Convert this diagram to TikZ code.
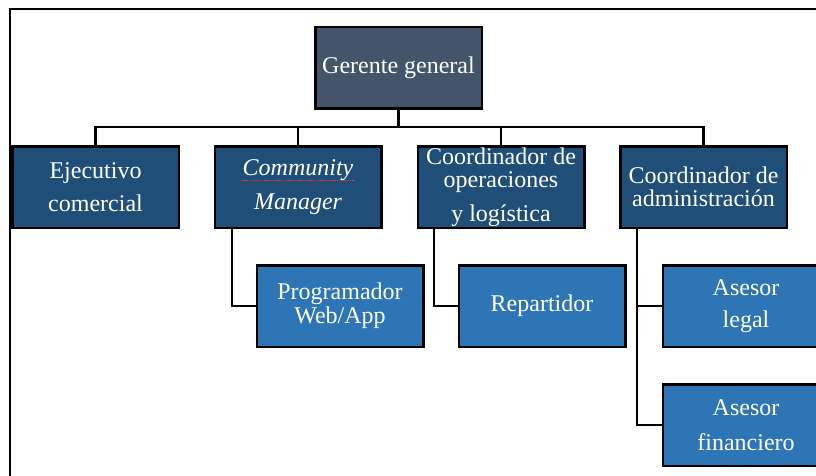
\documentclass[tikz,border=0pt]{standalone}
\usepackage{fontspec}
\setmainfont{Liberation Serif}
\usetikzlibrary{backgrounds}
\definecolor{topc}{HTML}{44546A}
\definecolor{midc}{HTML}{1F4E79}
\definecolor{lowc}{HTML}{2E75B6}
\definecolor{spellred}{HTML}{D0343A}
\tikzset{
  box/.style={draw=black, line width=2.5pt, minimum width=166.5pt, minimum height=81.5pt,
    inner sep=0pt, text=white, align=center, font=\fontsize{24}{23}\selectfont},
  topbox/.style={box, fill=topc},
  midbox/.style={box, fill=midc},
  lowbox/.style={box, fill=lowc},
  conn/.style={draw=black, line width=2.2pt},
  frame/.style={draw=black, line width=1.6pt},
  spell/.style={draw=spellred, line width=1pt, dash pattern=on 1.5pt off 0.7pt}
}
\begin{document}
\begin{tikzpicture}[x=1pt,y=-1pt]
\useasboundingbox (0,0) rectangle (816,476);
\draw[frame] (10,500) -- (10,9) -- (830,9);
% nodes
\node[topbox] (g) at (398.5,68) {Gerente general};
\node[midbox] (ej) at (95.5,187) {Ejecutivo\\[10pt]comercial};
\node[midbox] (cm) at (298,187) {\itshape Community\\[11pt]\itshape Manager};
\node[midbox] (co) at (501,187) {Coordinador de\\operaciones\\[11pt]y logística};
\node[midbox] (ca) at (703.5,187) {Coordinador de\\administración};
\node[lowbox] (pr) at (340,306) {Programador\\[1pt]Web/App};
\node[lowbox] (re) at (542,306) {Repartidor};
\node[lowbox] (al) at (746,306) {Asesor\\[9pt]legal};
\node[lowbox] (af) at (746,425) {Asesor\\[12pt]financiero};
% spell-check underline
\draw[spell] ([xshift=-56pt,yshift=7pt]cm.center) -- ([xshift=57pt,yshift=7pt]cm.center);
% connectors
\begin{scope}[on background layer]
\coordinate (bus) at ([yshift=-17pt]g.south);
\draw[conn] (g.south) -- (bus);
\draw[conn] (ej.north) |- (bus);
\draw[conn] (ca.north) |- (bus);
\draw[conn] (cm.north) -- (cm.north |- bus);
\draw[conn] (co.north) -- (co.north |- bus);
\draw[conn] ([xshift=-66pt]cm.south) |- (pr.west);
\draw[conn] ([xshift=-67pt]co.south) |- (re.west);
\draw[conn] ([xshift=-66.5pt]ca.south) |- (al.west);
\draw[conn] ([xshift=-66.5pt]ca.south) |- (af.west);
\end{scope}
\end{tikzpicture}
\end{document}
